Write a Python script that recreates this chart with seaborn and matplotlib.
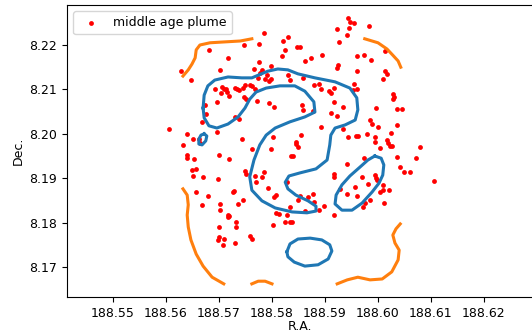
import matplotlib
matplotlib.use("Agg")
import matplotlib.pyplot as plt
import seaborn as sns
import pandas as pd

# ---- scatter data (R.A., Dec.) ----
ra_points = [
    188.5785, 188.5830, 188.5821, 188.5775, 188.5747, 188.5681, 188.5825, 188.5819, 188.5717, 188.5775,
    188.5798, 188.5766, 188.5702, 188.5628, 188.5781, 188.5777, 188.5791, 188.5830, 188.5774, 188.5787,
    188.5794, 188.5798, 188.5834, 188.5647, 188.5758, 188.5762, 188.5768, 188.5692, 188.5706, 188.5709,
    188.5713, 188.5715, 188.5730, 188.5734, 188.5737, 188.5745, 188.5749, 188.5704, 188.5719, 188.5772,
    188.5751, 188.5747, 188.5696, 188.5794, 188.5804, 188.5674, 188.5675, 188.5730, 188.5738, 188.5668,
    188.5943, 188.5947, 188.5955, 188.5983, 188.5923, 188.5945, 188.5942, 188.5926, 188.5847, 188.5853,
    188.5894, 188.5960, 188.5974, 188.6013, 188.5874, 188.5862, 188.5987, 188.5925, 188.5923, 188.5960,
    188.6013, 188.6017, 188.6009, 188.5955, 188.5879, 188.5889, 188.5892, 188.5858, 188.5908, 188.5911,
    188.5917, 188.5953, 188.5960, 188.6028, 188.6030, 188.6028, 188.5857, 188.5917, 188.5934, 188.5996,
    188.6036, 188.6045, 188.5858, 188.5877, 188.5911, 188.5923, 188.5985, 188.5989, 188.6036, 188.6000,
    188.5892, 188.5934,
    188.6025, 188.5855, 188.5943, 188.5958, 188.5962, 188.5979, 188.5994, 188.5994, 188.6017, 188.6019,
    188.6023, 188.6026, 188.5845, 188.5845, 188.5849, 188.6004, 188.6079, 188.6036, 188.6072, 188.5974,
    188.5942, 188.6042, 188.6049, 188.6060, 188.5917, 188.5917, 188.5994, 188.5996, 188.5998, 188.5970,
    188.6106, 188.5981, 188.6009, 188.5957, 188.5928, 188.6004, 188.6009, 188.6021, 188.5942, 188.5960,
    188.5877, 188.5853, 188.5868, 188.5849, 188.5985, 188.5975, 188.6011, 188.5879, 188.5898, 188.5972,
    188.5862, 188.5889, 188.5917,
    188.5606, 188.5696, 188.5640, 188.5651, 188.5662, 188.5664, 188.5632, 188.5743, 188.5802, 188.5762,
    188.5798, 188.5640, 188.5640, 188.5653, 188.5700, 188.5719, 188.5836, 188.5840, 188.5649, 188.5657,
    188.5749, 188.5751, 188.5768, 188.5785, 188.5781, 188.5651, 188.5670, 188.5698, 188.5770, 188.5828,
    188.5792, 188.5804, 188.5808, 188.5657, 188.5679, 188.5726, 188.5728, 188.5745, 188.5736, 188.5668,
    188.5702, 188.5702, 188.5834, 188.5808, 188.5813, 188.5828, 188.5717, 188.5719, 188.5717, 188.5732,
    188.5825, 188.5834, 188.5838, 188.5802, 188.5700, 188.5732, 188.5758, 188.5762, 188.5700, 188.5698,
    188.5709, 188.5730, 188.5708,
]
dec_points = [
    8.2227, 8.2218, 8.2209, 8.2202, 8.2200, 8.2189, 8.2189, 8.2175, 8.2171, 8.2162,
    8.2153, 8.2146, 8.2144, 8.2141, 8.2144, 8.2137, 8.2132, 8.2132, 8.2126, 8.2123,
    8.2119, 8.2123, 8.2121, 8.2121, 8.2110, 8.2108, 8.2101, 8.2101, 8.2105, 8.2101,
    8.2101, 8.2094, 8.2103, 8.2101, 8.2099, 8.2103, 8.2110, 8.2092, 8.2085, 8.2074,
    8.2078, 8.2083, 8.2072, 8.2069, 8.2060, 8.2065, 8.2045, 8.2038, 8.2033, 8.2027,
    8.2261, 8.2252, 8.2250, 8.2243, 8.2236, 8.2238, 8.2223, 8.2207, 8.2195, 8.2195,
    8.2177, 8.2175, 8.2177, 8.2186, 8.2171, 8.2164, 8.2166, 8.2155, 8.2148, 8.2141,
    8.2141, 8.2135, 8.2123, 8.2112, 8.2110, 8.2112, 8.2101, 8.2126, 8.2096, 8.2092,
    8.2103, 8.2099, 8.2101, 8.2090, 8.2083, 8.2078, 8.2065, 8.2072, 8.2060, 8.2058,
    8.2056, 8.2056, 8.2054, 8.2051, 8.2047, 8.2040, 8.2031, 8.2022, 8.2020, 8.2015,
    8.2015, 8.2011,
    8.2002, 8.1997, 8.1993, 8.1995, 8.1996, 8.2000, 8.1993, 8.1982, 8.1986, 8.1979,
    8.1973, 8.1973, 8.1982, 8.1977, 8.1970, 8.1968, 8.1970, 8.1948, 8.1945, 8.1945,
    8.1932, 8.1925, 8.1914, 8.1914, 8.1909, 8.1903, 8.1907, 8.1900, 8.1896, 8.1903,
    8.1894, 8.1887, 8.1885, 8.1880, 8.1876, 8.1869, 8.1873, 8.1873, 8.1864, 8.1860,
    8.1864, 8.1860, 8.1858, 8.1851, 8.1851, 8.1844, 8.1844, 8.1846, 8.1837, 8.1835,
    8.1826, 8.1828, 8.1817,
    8.2011, 8.2004, 8.2000, 8.1988, 8.1988, 8.1979, 8.1975, 8.1988, 8.1993, 8.1966,
    8.1966, 8.1952, 8.1945, 8.1943, 8.1952, 8.1943, 8.1950, 8.1950, 8.1918, 8.1921,
    8.1916, 8.1909, 8.1905, 8.1914, 8.1903, 8.1905, 8.1903, 8.1898, 8.1891, 8.1891,
    8.1878, 8.1858, 8.1862, 8.1869, 8.1860, 8.1869, 8.1871, 8.1851, 8.1842, 8.1840,
    8.1842, 8.1828, 8.1835, 8.1822, 8.1819, 8.1817, 8.1817, 8.1815, 8.1813, 8.1801,
    8.1801, 8.1801, 8.1801, 8.1795, 8.1790, 8.1790, 8.1770, 8.1763, 8.1768, 8.1761,
    8.1763, 8.1754, 8.1750,
]

# ---- contour paths (R.A., Dec.) ----
blue_main_ra = [188.5670, 188.5672, 188.5679, 188.5692, 188.5717, 188.5743, 188.5762, 188.5774, 188.5792, 188.5811,
                188.5830, 188.5849, 188.5881, 188.5919, 188.5947, 188.5960, 188.5962, 188.5957, 188.5938, 188.5919,
                188.5911, 188.5909, 188.5904, 188.5883, 188.5853, 188.5832, 188.5825, 188.5830, 188.5845, 188.5868,
                188.5883, 188.5883, 188.5866, 188.5838, 188.5806, 188.5781, 188.5762, 188.5758, 188.5766, 188.5777,
                188.5789, 188.5806, 188.5834, 188.5862, 188.5881, 188.5879, 188.5862, 188.5843, 188.5815, 188.5789,
                188.5770, 188.5758, 188.5749, 188.5736, 188.5717, 188.5696, 188.5681, 188.5672, 188.5670]
blue_main_dec = [8.2058, 8.2087, 8.2108, 8.2121, 8.2128, 8.2126, 8.2126, 8.2132, 8.2141, 8.2146,
                 8.2144, 8.2135, 8.2126, 8.2117, 8.2103, 8.2081, 8.2054, 8.2031, 8.2020, 8.2013,
                 8.1997, 8.1975, 8.1941, 8.1921, 8.1912, 8.1905, 8.1891, 8.1876, 8.1862, 8.1849,
                 8.1837, 8.1826, 8.1822, 8.1824, 8.1833, 8.1849, 8.1873, 8.1903, 8.1941, 8.1975,
                 8.1997, 8.2013, 8.2027, 8.2038, 8.2049, 8.2072, 8.2096, 8.2108, 8.2108, 8.2103,
                 8.2094, 8.2078, 8.2058, 8.2038, 8.2022, 8.2013, 8.2018, 8.2036, 8.2058]

blue_small_ra = [188.5672, 188.5677, 188.5675, 188.5668, 188.5662, 188.5662, 188.5666, 188.5672]
blue_small_dec = [8.2000, 8.1995, 8.1984, 8.1975, 8.1977, 8.1988, 8.1997, 8.2000]

blue_right_ra = [188.5994, 188.6006, 188.6011, 188.6009, 188.6002, 188.5989, 188.5970, 188.5951, 188.5932, 188.5919,
                 188.5921, 188.5932, 188.5947, 188.5966, 188.5981, 188.5994]
blue_right_dec = [8.1950, 8.1945, 8.1930, 8.1907, 8.1889, 8.1869, 8.1844, 8.1828, 8.1828, 8.1842,
                  8.1862, 8.1885, 8.1905, 8.1925, 8.1941, 8.1950]

blue_bottom_ra = [188.5828, 188.5834, 188.5849, 188.5872, 188.5894, 188.5909, 188.5913, 188.5906, 188.5887, 188.5862,
                  188.5842, 188.5830, 188.5828]
blue_bottom_dec = [8.1734, 8.1752, 8.1763, 8.1765, 8.1761, 8.1750, 8.1736, 8.1718, 8.1705, 8.1702,
                   8.1711, 8.1723, 8.1734]

orange_tl_ra = [188.5632, 188.5642, 188.5649, 188.5655, 188.5657, 188.5664, 188.5683, 188.5711, 188.5740, 188.5762]
orange_tl_dec = [8.2130, 8.2144, 8.2157, 8.2171, 8.2189, 8.2200, 8.2205, 8.2207, 8.2209, 8.2214]

orange_tr_ra = [188.5975, 188.6000, 188.6017, 188.6028, 188.6038, 188.6043]
orange_tr_dec = [8.2214, 8.2205, 8.2191, 8.2177, 8.2164, 8.2150]

orange_bl_ra = [188.5632, 188.5640, 188.5642, 188.5640, 188.5642, 188.5647, 188.5657, 188.5670, 188.5687, 188.5709]
orange_bl_dec = [8.1876, 8.1862, 8.1840, 8.1817, 8.1790, 8.1761, 8.1729, 8.1702, 8.1677, 8.1662]

orange_b_ra = [188.5762, 188.5774, 188.5787, 188.5800]
orange_b_dec = [8.1662, 8.1668, 8.1668, 8.1662]

orange_br_ra = [188.5923, 188.5942, 188.5962, 188.5985, 188.6008, 188.6026, 188.6038, 188.6040, 188.6032, 188.6028,
                188.6034, 188.6042]
orange_br_dec = [8.1662, 8.1671, 8.1677, 8.1671, 8.1673, 8.1689, 8.1716, 8.1738, 8.1754, 8.1772,
                 8.1786, 8.1797]

x_ticks = [188.55, 188.56, 188.57, 188.58, 188.59, 188.60, 188.61, 188.62]
y_ticks = [8.17, 8.18, 8.19, 8.20, 8.21, 8.22]

plt.rcParams['font.family'] = ['DejaVu Sans']
plt.rcParams['font.size'] = 9

fig = plt.figure(figsize=(5.32, 3.33), dpi=100)
ax = fig.add_axes([67 / 532, 36 / 333, 466 / 532, 292 / 333])

df = pd.DataFrame({"ra": ra_points, "dec": dec_points})
sns.scatterplot(data=df, x="ra", y="dec", color="red", s=12, linewidth=0,
                label="middle age plume", ax=ax, zorder=2)

blue_paths = [(blue_main_ra, blue_main_dec), (blue_small_ra, blue_small_dec),
              (blue_right_ra, blue_right_dec), (blue_bottom_ra, blue_bottom_dec)]
orange_paths = [(orange_tl_ra, orange_tl_dec), (orange_tr_ra, orange_tr_dec),
                (orange_bl_ra, orange_bl_dec), (orange_b_ra, orange_b_dec),
                (orange_br_ra, orange_br_dec)]
for xs, ys in blue_paths:
    sns.lineplot(x=xs, y=ys, sort=False, estimator=None, color="C0", lw=2.2, ax=ax, zorder=3)
for xs, ys in orange_paths:
    sns.lineplot(x=xs, y=ys, sort=False, estimator=None, color="C1", lw=2.2, ax=ax, zorder=3)

ax.set_xlim(188.54132, 188.62925)
ax.set_ylim(8.16324, 8.22901)
ax.set_xticks(x_ticks)
ax.set_xticklabels([f"{v:.2f}" for v in x_ticks])
ax.set_yticks(y_ticks)
ax.set_yticklabels([f"{v:.2f}" for v in y_ticks])
ax.set_xlabel("R.A.", labelpad=0.5)
ax.set_ylabel("Dec.", labelpad=3)
ax.legend(loc="upper left", markerscale=1.0)

fig.savefig("out.png", dpi=100)
